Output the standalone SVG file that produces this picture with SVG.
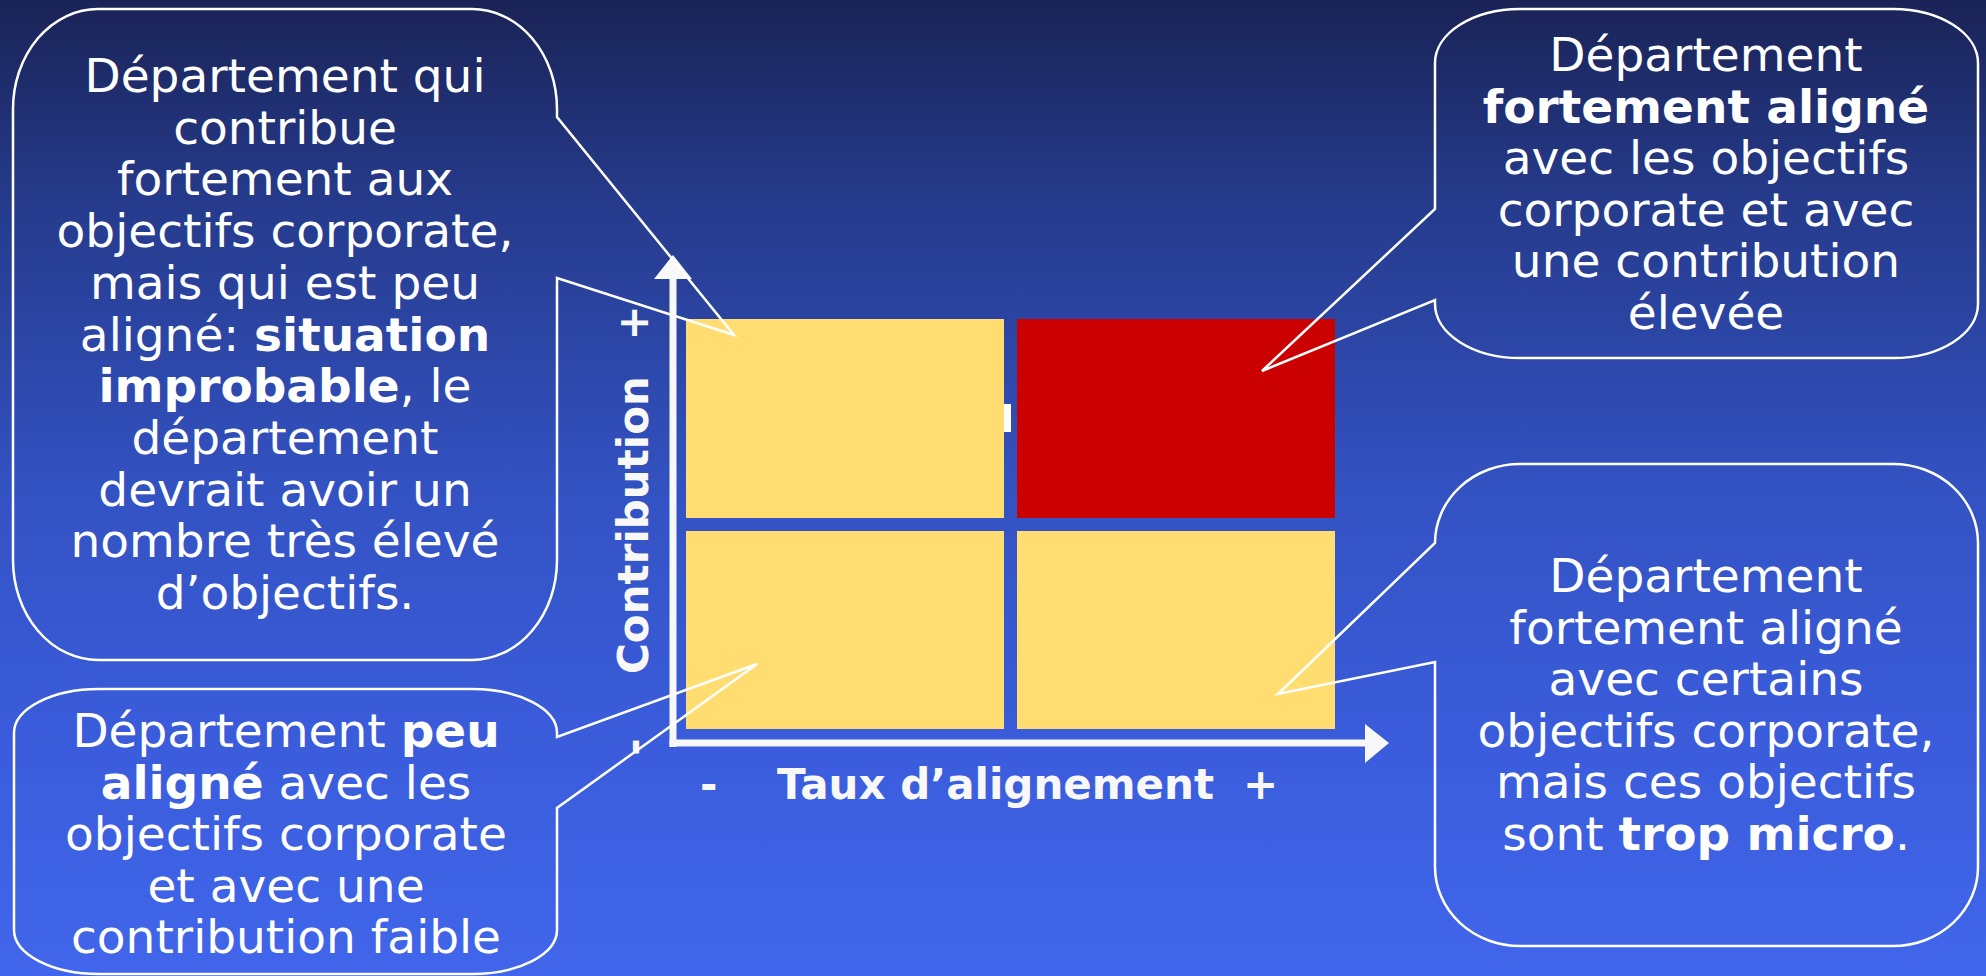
<svg xmlns="http://www.w3.org/2000/svg" width="1986" height="976" viewBox="0 0 1986 976">
<defs>
<linearGradient id="bg" x1="0" y1="0" x2="0" y2="1">
<stop offset="0" stop-color="#1a2356"/>
<stop offset="0.2" stop-color="#253a8a"/>
<stop offset="0.5" stop-color="#3352c2"/>
<stop offset="0.75" stop-color="#3a5cdb"/>
<stop offset="1" stop-color="#4166eb"/>
</linearGradient>
<style>
.call{fill:none;stroke:#ffffff;stroke-width:2.5;stroke-linejoin:miter}
.t{font-family:"DejaVu Sans","Verdana",sans-serif;font-size:47px;fill:#ffffff;text-anchor:middle}
.b{font-weight:bold}
.ax{font-family:"DejaVu Sans","Verdana",sans-serif;font-size:42px;font-weight:bold;fill:#f8f8f8}
.yel{fill:#ffdd71}
.red{fill:#cb0000}
.axis{fill:#f8f8f8}
</style>
</defs>
<rect x="0" y="0" width="1986" height="976" fill="url(#bg)"/>

<g id="quadrants">
<rect id="q-tl" class="yel" x="686" y="319" width="318" height="199"/>
<rect id="q-tr" class="red" x="1017" y="319" width="318" height="199"/>
<rect id="q-bl" class="yel" x="686" y="531" width="318" height="198"/>
<rect id="q-br" class="yel" x="1017" y="531" width="318" height="198"/>
<rect x="1004" y="404" width="7" height="28" fill="#ffffff"/>
</g>

<g id="connectors">
<rect class="axis" x="669.5" y="276" width="7" height="471"/>
<polygon class="axis" points="654,279 692,279 673,255"/>
<rect class="axis" x="669.5" y="739.5" width="697" height="7"/>
<polygon class="axis" points="1365,724 1365,763 1389,743"/>
</g>

<g id="axis-labels">
<text class="ax" x="700" y="799">-</text>
<text class="ax" x="777" y="799">Taux d’alignement</text>
<text class="ax" x="1243" y="799">+</text>
<text class="ax" text-anchor="middle" transform="translate(648,747) rotate(-90)">-</text>
<text class="ax" text-anchor="middle" transform="translate(648,525) rotate(-90)">Contribution</text>
<text class="ax" text-anchor="middle" transform="translate(648,323) rotate(-90)">+</text>
</g>

<g id="callout-tl">
<path class="call" d="M98,9 H472 A85,100 0 0 1 557,109 V117 L734,335 L557,278 V560 A85,100 0 0 1 472,660 H98 A85,100 0 0 1 13,560 V109 A85,100 0 0 1 98,9 Z"/>
<text class="t" x="285" y="92">Département qui</text>
<text class="t" x="285" y="143.7">contribue</text>
<text class="t" x="285" y="195.4">fortement aux</text>
<text class="t" x="285" y="247.1">objectifs corporate,</text>
<text class="t" x="285" y="298.8">mais qui est peu</text>
<text class="t" x="285" y="350.5">aligné: <tspan class="b">situation</tspan></text>
<text class="t" x="285" y="402.2"><tspan class="b">improbable</tspan>, le</text>
<text class="t" x="285" y="453.9">département</text>
<text class="t" x="285" y="505.6">devrait avoir un</text>
<text class="t" x="285" y="557.3">nombre très élevé</text>
<text class="t" x="285" y="609">d’objectifs.</text>
</g>

<g id="callout-bl">
<path class="call" d="M99,689 H472 A85,44 0 0 1 557,733 V737 L757,664 L557,808 V930 A85,44 0 0 1 472,974 H99 A85,44 0 0 1 14,930 V733 A85,44 0 0 1 99,689 Z"/>
<text class="t" x="286" y="747">Département <tspan class="b">peu</tspan></text>
<text class="t" x="286" y="798.5"><tspan class="b">aligné</tspan> avec les</text>
<text class="t" x="286" y="850">objectifs corporate</text>
<text class="t" x="286" y="901.5">et avec une</text>
<text class="t" x="286" y="953">contribution faible</text>
</g>

<g id="callout-tr">
<path class="call" d="M1520,9 H1893 A85,54 0 0 1 1978,63 V304 A85,54 0 0 1 1893,358 H1520 A85,54 0 0 1 1435,304 V300 L1262,371 L1435,209 V63 A85,54 0 0 1 1520,9 Z"/>
<text class="t" x="1706" y="71">Département</text>
<text class="t b" x="1706" y="122.5">fortement aligné</text>
<text class="t" x="1706" y="174">avec les objectifs</text>
<text class="t" x="1706" y="225.5">corporate et avec</text>
<text class="t" x="1706" y="277">une contribution</text>
<text class="t" x="1706" y="328.5">élevée</text>
</g>

<g id="callout-br">
<path class="call" d="M1520,464 H1893 A85,79 0 0 1 1978,543 V867 A85,79 0 0 1 1893,946 H1520 A85,79 0 0 1 1435,867 V662 L1278,694 L1435,543 A85,79 0 0 1 1520,464 Z"/>
<text class="t" x="1706" y="592">Département</text>
<text class="t" x="1706" y="643.5">fortement aligné</text>
<text class="t" x="1706" y="695">avec certains</text>
<text class="t" x="1706" y="746.5">objectifs corporate,</text>
<text class="t" x="1706" y="798">mais ces objectifs</text>
<text class="t" x="1706" y="849.5">sont <tspan class="b">trop micro</tspan>.</text>
</g>
</svg>
